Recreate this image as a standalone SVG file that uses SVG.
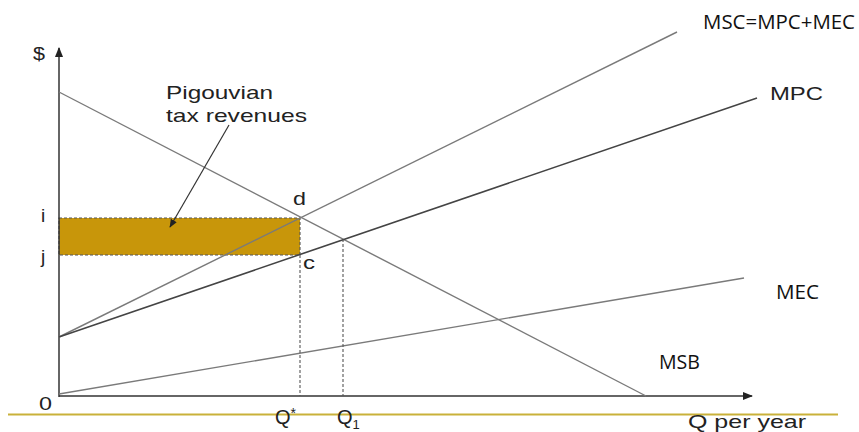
<svg xmlns="http://www.w3.org/2000/svg" width="859" height="432" viewBox="0 0 859 432">
<defs>
<style>
.ax{stroke:#333;stroke-width:1.5;fill:none}
.ln{stroke:#7a7a7a;stroke-width:1.4;fill:none}
.dk{stroke:#444;stroke-width:1.6;fill:none}
.dash{stroke:#555;stroke-width:1.1;stroke-dasharray:3,2;fill:none}
.t{font-family:"Liberation Sans",Arial,sans-serif;fill:#222}
.c{font-family:"Open Sans","Liberation Sans",sans-serif;fill:#111}
</style>
<marker id="ah" viewBox="0 0 10 10" refX="9" refY="5" markerWidth="7" markerHeight="7" orient="auto"><path d="M0,1 L10,5 L0,9 Z" fill="#222"/></marker>
</defs>
<rect width="859" height="432" fill="#fff"/>
<line x1="8" y1="414.5" x2="838" y2="414.5" stroke="#c9b13a" stroke-width="2"/>
<g id="area">
<rect x="59" y="218" width="241" height="37" fill="#c8960a" stroke="#555" stroke-width="1.1" stroke-dasharray="3,2"/>
</g>
<g id="connectors">
<line class="ax" x1="59" y1="397" x2="59" y2="48" marker-end="url(#ah)"/>
<line class="ax" x1="59" y1="396" x2="752" y2="396" marker-end="url(#ah)"/>
<line class="ln" x1="59" y1="92" x2="646" y2="396"/>
<line class="ln" x1="59" y1="337" x2="677" y2="32"/>
<line class="dk" x1="59" y1="337" x2="757" y2="98"/>
<line class="ln" x1="59" y1="394" x2="744" y2="278"/>
<line class="dash" x1="300" y1="255" x2="300" y2="396"/>
<line class="dash" x1="343" y1="239" x2="343" y2="396"/>
<line stroke="#333" stroke-width="1.2" x1="229" y1="125" x2="170" y2="227" marker-end="url(#ah)"/>
</g>
<g id="labels">
<text class="t" x="33" y="60" font-size="19" textLength="12" lengthAdjust="spacingAndGlyphs">$</text>
<text class="t" x="41" y="222" font-size="19">i</text>
<text class="t" x="41" y="263" font-size="19">j</text>
<text class="t" x="293" y="205" font-size="19" textLength="13" lengthAdjust="spacingAndGlyphs">d</text>
<text class="t" x="303" y="269" font-size="19" textLength="12" lengthAdjust="spacingAndGlyphs">c</text>
<text class="t" x="39" y="410" font-size="19" textLength="13" lengthAdjust="spacingAndGlyphs">0</text>
<text class="t" x="166" y="99" font-size="19" textLength="107" lengthAdjust="spacingAndGlyphs">Pigouvian</text>
<text class="t" x="166" y="122" font-size="19" textLength="141" lengthAdjust="spacingAndGlyphs">tax revenues</text>
<text class="t" x="275" y="424" font-size="20">Q<tspan font-size="14" dy="-6">*</tspan></text>
<text class="t" x="337" y="424" font-size="20">Q<tspan font-size="13" dy="5">1</tspan></text>
<text class="t" x="688" y="428" font-size="19" textLength="118" lengthAdjust="spacingAndGlyphs">Q per year</text>
<text class="t" x="770" y="100" font-size="19" textLength="53" lengthAdjust="spacingAndGlyphs">MPC</text>
<text class="c" x="703" y="29" font-size="20" textLength="152" lengthAdjust="spacingAndGlyphs">MSC=MPC+MEC</text>
<text class="c" x="776" y="299" font-size="20" textLength="43" lengthAdjust="spacingAndGlyphs">MEC</text>
<text class="c" x="659" y="369" font-size="20" textLength="41" lengthAdjust="spacingAndGlyphs">MSB</text>
</g>
</svg>
